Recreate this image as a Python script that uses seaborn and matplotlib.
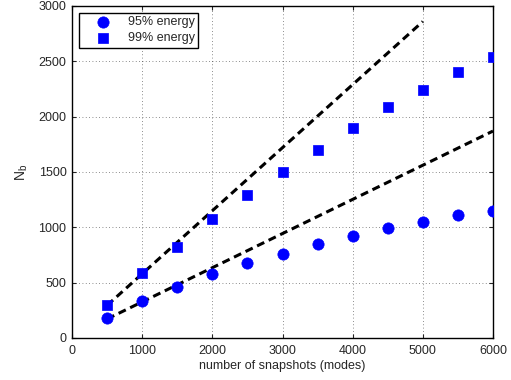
import numpy as np
import pandas as pd
import matplotlib
matplotlib.use("Agg")
import matplotlib.pyplot as plt
import seaborn as sns

# Data
snapshots = [500, 1000, 1500, 2000, 2500, 3000, 3500, 4000, 4500, 5000, 5500, 6000]
nb_95 = [180, 330, 460, 580, 680, 760, 848, 925, 993, 1050, 1107, 1150]
nb_99 = [300, 585, 825, 1075, 1290, 1498, 1703, 1902, 2085, 2240, 2404, 2543]
fit99_x = [500, 5000]
fit99_y = [295, 2860]
fit95_x = [500, 6000]
fit95_y = [172, 1870]
xticks = [0, 1000, 2000, 3000, 4000, 5000, 6000]
yticks = [0, 500, 1000, 1500, 2000, 2500, 3000]

sns.set_style("ticks")
plt.rcParams['font.family'] = ['Liberation Sans', 'DejaVu Sans']
plt.rcParams['mathtext.fontset'] = 'custom'
plt.rcParams['mathtext.rm'] = 'Liberation Sans'

fig = plt.figure(figsize=(5.11, 3.80), dpi=100)
ax = fig.add_axes([72/511, 42/380, (493-72)/511, (338-6)/380])

df95 = pd.DataFrame({"x": snapshots, "y": nb_95})
df99 = pd.DataFrame({"x": snapshots, "y": nb_99})

sns.lineplot(x=fit99_x, y=fit99_y, ax=ax, color='black', lw=2.2, dashes=False,
             linestyle=(0, (2.6, 1.6)), legend=False, zorder=2)
sns.lineplot(x=fit95_x, y=fit95_y, ax=ax, color='black', lw=2.2, dashes=False,
             linestyle=(0, (2.6, 1.6)), legend=False, zorder=2)
sns.scatterplot(data=df95, x="x", y="y", ax=ax, marker='o', s=66, color='#0000ff',
                edgecolor='#0000ff', linewidth=0.5, label='95% energy', zorder=3)
sns.scatterplot(data=df99, x="x", y="y", ax=ax, marker='s', s=44, color='#0000ff',
                edgecolor='#0000ff', linewidth=0.5, label='99% energy', zorder=3)

ax.set_xlim(0, 6000)
ax.set_ylim(0, 3000)
ax.set_xticks(xticks)
ax.set_yticks(yticks)
ax.grid(True, linestyle=(0, (1, 3)), color='black', lw=0.6, alpha=0.6)
ax.tick_params(direction='in', top=True, right=True, labelsize=9, length=3, width=0.8)
ax.tick_params(axis='x', pad=5)
ax.tick_params(axis='y', pad=4)
for s in ax.spines.values():
    s.set_visible(True)
    s.set_linewidth(1.0)
    s.set_color('black')
ax.set_xlabel('number of snapshots (modes)', fontsize=9, labelpad=2)
ax.set_ylabel(r'N$_\mathrm{b}$', fontsize=10, labelpad=6)

leg = ax.legend(loc='upper left', fontsize=9, frameon=True, fancybox=False,
                edgecolor='black', framealpha=1, borderpad=0.25, handlelength=3.4,
                handletextpad=0.3, labelspacing=0.35, borderaxespad=0.55)
leg.get_frame().set_linewidth(1.0)

fig.savefig('out.png', dpi=100)
